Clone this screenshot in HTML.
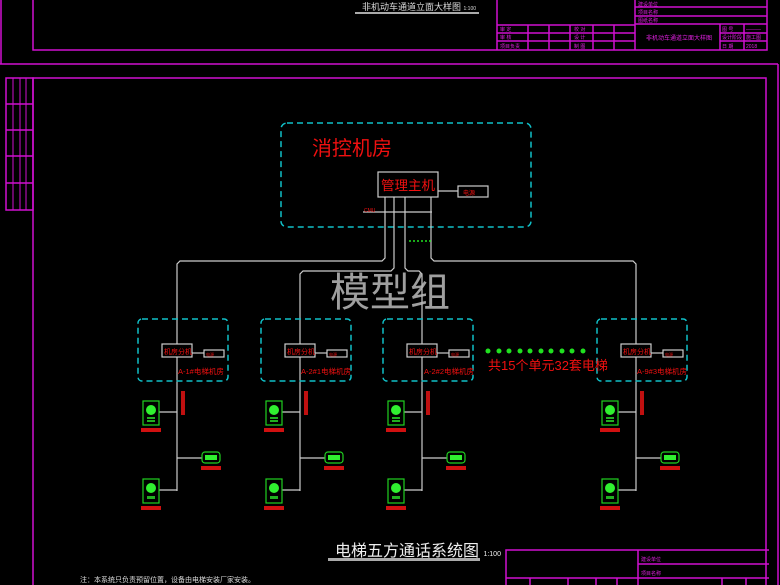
<!DOCTYPE html>
<html><head><meta charset="utf-8"><style>
html,body{margin:0;padding:0;background:#000;width:780px;height:585px;overflow:hidden}
svg{display:block}
text{font-family:"Liberation Sans","Noto Sans CJK SC",sans-serif}
</style></head><body>
<svg width="780" height="585" viewBox="0 0 780 585" xmlns="http://www.w3.org/2000/svg">
<g stroke="#d010d0" fill="none" stroke-width="1.5">
<line x1="1" y1="0" x2="1" y2="64"/>
<polyline points="33,0 33,50 767,50 767,0"/>
<line x1="0" y1="64" x2="778" y2="64"/>
<line x1="778" y1="64" x2="778" y2="585"/>
<line x1="497" y1="0" x2="497" y2="50"/>
<line x1="635" y1="0" x2="635" y2="50"/>
<line x1="635" y1="7" x2="767" y2="7"/>
<line x1="635" y1="16" x2="767" y2="16"/>
<line x1="635" y1="24" x2="767" y2="24"/>
<line x1="720" y1="24" x2="720" y2="50"/>
<line x1="744" y1="24" x2="744" y2="50"/>
<line x1="720" y1="33" x2="767" y2="33"/>
<line x1="720" y1="41" x2="767" y2="41"/>
<line x1="497" y1="25" x2="635" y2="25"/>
<line x1="497" y1="33" x2="635" y2="33"/>
<line x1="497" y1="41" x2="635" y2="41"/>
<line x1="528" y1="25" x2="528" y2="50"/>
<line x1="549" y1="25" x2="549" y2="50"/>
<line x1="570" y1="25" x2="570" y2="50"/>
<line x1="593" y1="25" x2="593" y2="50"/>
<line x1="614" y1="25" x2="614" y2="50"/>
<polyline points="33,585 33,78 766,78 766,585"/>
<rect x="6" y="78" width="27" height="132"/>
<line x1="6" y1="104" x2="33" y2="104"/>
<line x1="6" y1="130" x2="33" y2="130"/>
<line x1="6" y1="156" x2="33" y2="156"/>
<line x1="6" y1="183" x2="33" y2="183"/>
<line x1="13" y1="78" x2="13" y2="210" stroke-width="1"/>
<line x1="20" y1="78" x2="20" y2="210" stroke-width="1"/>
<line x1="26" y1="78" x2="26" y2="210" stroke-width="1"/>
<polyline points="506,585 506,550 769,550"/>
<line x1="638" y1="550" x2="638" y2="585"/>
<line x1="638" y1="564" x2="769" y2="564"/>
<line x1="638" y1="578" x2="769" y2="578"/>
<line x1="506" y1="578" x2="638" y2="578"/>
<line x1="530" y1="578" x2="530" y2="585"/>
<line x1="568" y1="578" x2="568" y2="585"/>
<line x1="596" y1="578" x2="596" y2="585"/>
<line x1="617" y1="578" x2="617" y2="585"/>
<line x1="722" y1="578" x2="722" y2="585"/>
<line x1="746" y1="578" x2="746" y2="585"/>
</g>
<g fill="#e020e0" font-size="5">
<text x="638" y="6">建设单位</text><text x="638" y="14">项目名称</text><text x="638" y="22">图纸名称</text>
<text x="646" y="40" font-size="6">非机动车通道立面大样图</text>
<text x="500" y="31">审 定</text><text x="500" y="39">审 核</text><text x="500" y="48">项目负责</text>
<text x="574" y="31">校 对</text><text x="574" y="39">设 计</text><text x="574" y="48">制 图</text>
<text x="722" y="31">图 号</text><text x="746" y="31">———</text>
<text x="722" y="39">设计阶段</text><text x="746" y="39">施工图</text>
<text x="722" y="48">日 期</text><text x="746" y="48">2018</text>
<text x="641" y="561">建设单位</text><text x="641" y="575">项目名称</text>
</g>
<text x="362" y="10" fill="#ddd" font-size="9">非机动车通道立面大样图 <tspan font-size="5">1:100</tspan></text>
<rect x="355" y="12" width="124" height="2" fill="#aaa"/>

<rect x="281" y="123" width="250" height="104" rx="6" fill="none" stroke="#10c0c8" stroke-width="1.5" stroke-dasharray="6,4"/>
<text x="312" y="155" fill="#f01010" font-size="20">消控机房</text>
<g stroke="#ccc" stroke-width="1.2" fill="none">
<rect x="378" y="172" width="60" height="25"/>
<rect x="458" y="186" width="30" height="11"/>
<line x1="438" y1="191" x2="458" y2="191"/>
<line x1="363" y1="212" x2="432" y2="212"/>
<polyline points="385,197 385,258 382,261 180,261 177,264 177,491"/>
<polyline points="394,197 394,268 391,271 303,271 300,274 300,491"/>
<polyline points="405,197 405,268 408,271 419,271 422,274 422,491"/>
<polyline points="431,197 431,258 434,261 633,261 636,264 636,491"/>
</g>
<text x="381" y="190" fill="#f01010" font-size="13" textLength="54" lengthAdjust="spacingAndGlyphs">管理主机</text>
<text x="463" y="195" fill="#f01010" font-size="6">电源</text>
<text x="364" y="212" fill="#f01010" font-size="5">CMU</text>
<g fill="#20e020"><circle cx="410" cy="241" r="1"/><circle cx="414" cy="241" r="1"/><circle cx="418" cy="241" r="1"/><circle cx="422" cy="241" r="1"/><circle cx="426" cy="241" r="1"/><circle cx="430" cy="241" r="1"/></g>

<text x="330" y="306" fill="#bbb" font-size="40" opacity="0.85">模型组</text>

<defs>
<g id="u">
<rect x="-39" y="319" width="90" height="62" rx="4" fill="none" stroke="#10c0c8" stroke-width="1.5" stroke-dasharray="6,4"/>
<rect x="-15" y="344" width="30" height="13" fill="#000" stroke="#ccc" stroke-width="1.2"/>
<rect x="27" y="350" width="20" height="7" fill="none" stroke="#ccc" stroke-width="1.2"/>
<line x1="15" y1="353" x2="27" y2="353" stroke="#ccc" stroke-width="1.2"/>
<text x="-13" y="354" fill="#f01010" font-size="7">机房分机</text>
<text x="29" y="356" fill="#f01010" font-size="4">电源</text>
<rect x="4" y="391" width="4" height="24" fill="#c01010"/>
<g stroke="#ccc" stroke-width="1.2"><line x1="-18" y1="412" x2="0" y2="412"/><line x1="0" y1="458" x2="25" y2="458"/><line x1="-18" y1="490" x2="0" y2="490"/></g>
<rect x="-34" y="401" width="16" height="24" fill="#000" stroke="#20d020" stroke-width="1.2"/>
<circle cx="-26" cy="410" r="5" fill="#30f030"/>
<rect x="-30" y="417" width="8" height="2" fill="#20b020"/><rect x="-30" y="420" width="8" height="2" fill="#20b020"/>
<rect x="25" y="452" width="18" height="11" rx="3" fill="#000" stroke="#20d020" stroke-width="1.2"/>
<rect x="28" y="455" width="12" height="5" fill="#30f030"/>
<rect x="-34" y="479" width="16" height="24" fill="#000" stroke="#20d020" stroke-width="1.2"/>
<circle cx="-26" cy="488" r="5" fill="#30f030"/>
<rect x="-30" y="496" width="8" height="3" fill="#20b020"/>
<rect x="-36" y="428" width="20" height="4" fill="#d01010"/>
<rect x="24" y="466" width="20" height="4" fill="#d01010"/>
<rect x="-36" y="506" width="20" height="4" fill="#d01010"/>
</g>
</defs>
<use href="#u" transform="translate(177,0)"/>
<use href="#u" transform="translate(300,0)"/>
<use href="#u" transform="translate(422,0)"/>
<use href="#u" transform="translate(636,0)"/>
<g fill="#f01010" font-size="7.5">
<text x="178" y="374">A-1#电梯机房</text>
<text x="301" y="374">A-2#1电梯机房</text>
<text x="424" y="374">A-2#2电梯机房</text>
<text x="637" y="374">A-9#3电梯机房</text>
</g>
<g fill="#20e020">
<circle cx="488" cy="351" r="2.5"/><circle cx="499" cy="351" r="2.5"/><circle cx="509" cy="351" r="2.5"/><circle cx="520" cy="351" r="2.5"/><circle cx="530" cy="351" r="2.5"/><circle cx="541" cy="351" r="2.5"/><circle cx="551" cy="351" r="2.5"/><circle cx="562" cy="351" r="2.5"/><circle cx="572" cy="351" r="2.5"/><circle cx="583" cy="351" r="2.5"/>
</g>
<text x="488" y="370" fill="#f01010" font-size="13">共15个单元32套电梯</text>

<text x="335" y="556" fill="#eee" font-size="16">电梯五方通话系统图 <tspan font-size="7">1:100</tspan></text>
<rect x="328" y="558" width="152" height="3" fill="#aaa"/>
<text x="80" y="582" fill="#ddd" font-size="7">注：本系统只负责预留位置，设备由电梯安装厂家安装。</text>
</svg>
</body></html>
